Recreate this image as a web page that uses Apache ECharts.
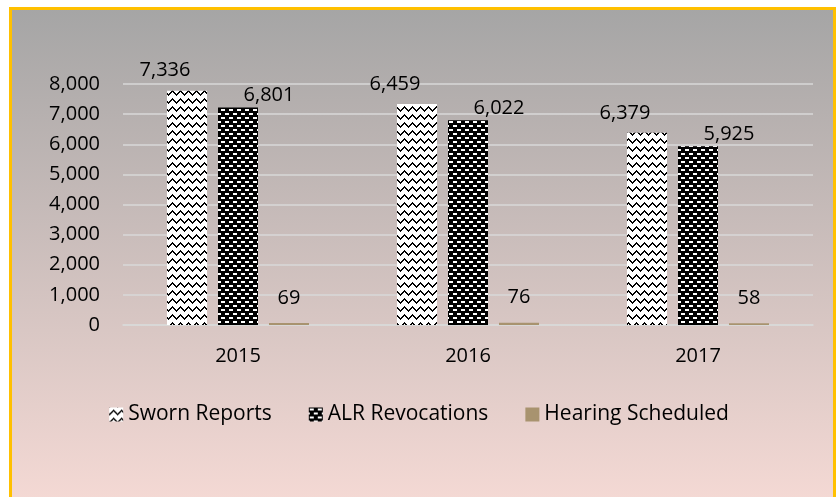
<!DOCTYPE html>
<html>
<head>
<meta charset="utf-8">
<script src="https://cdn.jsdelivr.net/npm/echarts@6/dist/echarts.min.js"></script>
<style>
  html, body { margin:0; padding:0; background:#fff; }
  #chart { width:838px; height:497px; }
</style>
</head>
<body>
<div id="chart"></div>
<script>
// data
var years = ['2015', '2016', '2017'];
var swornReports = [7780, 7340, 6380];
var alrRevocations = [7220, 6800, 5930];
var hearingScheduled = [69, 76, 58];
// printed labels as they appear on the chart
var swornLabels = ['7,336', '6,459', '6,379'];
var alrLabels = ['6,801', '6,022', '5,925'];
var hearingLabels = ['69', '76', '58'];
var yTicks = [0, 1000, 2000, 3000, 4000, 5000, 6000, 7000, 8000];

var FONT = '"Open Sans", "Noto Sans", sans-serif';

// white with black zigzag
function zigzagPattern() {
  var c = document.createElement('canvas');
  c.width = 8; c.height = 8;
  var g = c.getContext('2d');
  g.fillStyle = '#fff';
  g.fillRect(0, 0, 8, 8);
  g.fillStyle = '#000';
  var ys = [6, 5, 4, 3, 2, 3, 4, 5];
  for (var x = 0; x < 8; x++) {
    g.fillRect(x, ys[x], 1, 2);
  }
  return c;
}

// black with white dashes (brick)
function dashPattern() {
  var c = document.createElement('canvas');
  c.width = 8; c.height = 8;
  var g = c.getContext('2d');
  g.fillStyle = '#000';
  g.fillRect(0, 0, 8, 8);
  g.fillStyle = '#fff';
  g.fillRect(1, 1, 4, 2);
  g.fillRect(5, 5, 3, 2);
  g.fillRect(0, 5, 1, 2);
  return c;
}

var myChart = echarts.init(document.getElementById('chart'));

function labelFor(texts, pos) {
  return {
    show: true,
    position: pos,
    align: 'center',
    verticalAlign: 'middle',
    fontFamily: FONT,
    fontSize: 20,
    color: '#000',
    formatter: function (p) { return texts[p.dataIndex]; }
  };
}

var option = {
  backgroundColor: '#fff',
  animation: false,
  graphic: [{
    type: 'rect',
    z: -10,
    shape: { x: 10.5, y: 8.5, width: 824, height: 520 },
    style: {
      fill: new echarts.graphic.LinearGradient(0, 0, 0, 1, [
        { offset: 0, color: '#a5a5a5' },
        { offset: 1, color: '#f9dcd7' }
      ]),
      stroke: '#ffc000',
      lineWidth: 3
    }
  }],
  grid: { left: 123, right: 25, top: 84, bottom: 172, containLabel: false },
  legend: {
    left: 'center',
    top: 399,
    icon: 'rect',
    itemWidth: 14,
    itemHeight: 14,
    itemGap: 37,
    textStyle: { fontFamily: FONT, fontSize: 21, color: '#000' },
    data: ['Sworn Reports', 'ALR Revocations', 'Hearing Scheduled']
  },
  xAxis: {
    type: 'category',
    data: years,
    axisTick: { show: false },
    axisLine: { show: true, lineStyle: { color: '#d9d9d9', width: 1.5 } },
    axisLabel: { fontFamily: FONT, fontSize: 20, color: '#000', margin: 21 }
  },
  yAxis: {
    type: 'value',
    min: yTicks[0],
    max: yTicks[yTicks.length - 1],
    interval: 1000,
    axisLine: { show: false },
    axisTick: { show: false },
    splitLine: { lineStyle: { color: '#d9d9d9', width: 1.5 } },
    axisLabel: {
      fontFamily: FONT, fontSize: 20, color: '#000', margin: 23,
      formatter: function (v) { return v.toLocaleString('en-US'); }
    }
  },
  series: [
    {
      name: 'Sworn Reports',
      type: 'bar',
      barWidth: 40,
      barGap: '27.5%',
      data: swornReports,
      itemStyle: { color: { image: zigzagPattern(), repeat: 'repeat' } },
      label: labelFor(swornLabels, [-2, -20])
    },
    {
      name: 'ALR Revocations',
      type: 'bar',
      barWidth: 40,
      barGap: '27.5%',
      data: alrRevocations,
      itemStyle: { color: { image: dashPattern(), repeat: 'repeat' } },
      label: labelFor(alrLabels, [51, -12])
    },
    {
      name: 'Hearing Scheduled',
      type: 'bar',
      barWidth: 40,
      barGap: '27.5%',
      data: hearingScheduled,
      itemStyle: { color: '#a8936f' },
      label: labelFor(hearingLabels, [20, -25])
    }
  ]
};

myChart.setOption(option);
</script>
</body>
</html>
